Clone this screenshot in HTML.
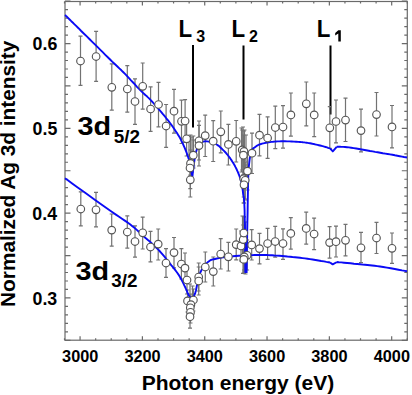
<!DOCTYPE html>
<html><head><meta charset="utf-8">
<style>
html,body{margin:0;padding:0;background:#fff;}
body{width:412px;height:395px;overflow:hidden;position:relative;}
svg{position:absolute;left:0;top:0;}
text{font-family:"Liberation Sans",sans-serif;font-weight:bold;fill:#000;}
</style></head><body>
<svg width="412" height="395" viewBox="0 0 412 395">
<g stroke="#6a6a6a" stroke-width="1.2" fill="none">
<rect x="65" y="1.5" width="342.3" height="338.7"/>
<path d="M65,340.35h5.5M407.3,340.35h-5.5M65,331.87h3M407.3,331.87h-3M65,323.39h3M407.3,323.39h-3M65,314.91h3M407.3,314.91h-3M65,306.43h3M407.3,306.43h-3M65,297.95h5.5M407.3,297.95h-5.5M65,289.47h3M407.3,289.47h-3M65,280.99h3M407.3,280.99h-3M65,272.51h3M407.3,272.51h-3M65,264.03h3M407.3,264.03h-3M65,255.55h5.5M407.3,255.55h-5.5M65,247.07h3M407.3,247.07h-3M65,238.59h3M407.3,238.59h-3M65,230.11h3M407.3,230.11h-3M65,221.63h3M407.3,221.63h-3M65,213.15h5.5M407.3,213.15h-5.5M65,204.67h3M407.3,204.67h-3M65,196.19h3M407.3,196.19h-3M65,187.71h3M407.3,187.71h-3M65,179.23h3M407.3,179.23h-3M65,170.75h5.5M407.3,170.75h-5.5M65,162.27h3M407.3,162.27h-3M65,153.79h3M407.3,153.79h-3M65,145.31h3M407.3,145.31h-3M65,136.83h3M407.3,136.83h-3M65,128.35h5.5M407.3,128.35h-5.5M65,119.87h3M407.3,119.87h-3M65,111.39h3M407.3,111.39h-3M65,102.91h3M407.3,102.91h-3M65,94.43h3M407.3,94.43h-3M65,85.95h5.5M407.3,85.95h-5.5M65,77.47h3M407.3,77.47h-3M65,68.99h3M407.3,68.99h-3M65,60.51h3M407.3,60.51h-3M65,52.03h3M407.3,52.03h-3M65,43.55h5.5M407.3,43.55h-5.5M65,35.07h3M407.3,35.07h-3M65,26.59h3M407.3,26.59h-3M65,18.11h3M407.3,18.11h-3M65,9.63h3M407.3,9.63h-3M65,1.15h5.5M407.3,1.15h-5.5M64.50,340.2v-2M64.50,1.5v2M80.08,340.2v-4M80.08,1.5v4M95.66,340.2v-2M95.66,1.5v2M111.24,340.2v-2M111.24,1.5v2M126.82,340.2v-2M126.82,1.5v2M142.40,340.2v-4M142.40,1.5v4M157.98,340.2v-2M157.98,1.5v2M173.56,340.2v-2M173.56,1.5v2M189.14,340.2v-2M189.14,1.5v2M204.72,340.2v-4M204.72,1.5v4M220.30,340.2v-2M220.30,1.5v2M235.88,340.2v-2M235.88,1.5v2M251.46,340.2v-2M251.46,1.5v2M267.04,340.2v-4M267.04,1.5v4M282.62,340.2v-2M282.62,1.5v2M298.20,340.2v-2M298.20,1.5v2M313.78,340.2v-2M313.78,1.5v2M329.36,340.2v-4M329.36,1.5v4M344.94,340.2v-2M344.94,1.5v2M360.52,340.2v-2M360.52,1.5v2M376.10,340.2v-2M376.10,1.5v2M391.68,340.2v-4M391.68,1.5v4M407.26,340.2v-2M407.26,1.5v2"/>
</g>
<g stroke="#000" stroke-width="2" fill="none">
<path d="M193,45V127.5M243.5,45.5V119.4M330.5,45.5V114.6"/>
</g>
<g stroke="#727272" stroke-width="1.2" fill="none">
<path d="M189.0,136.0V166.0M187.0,136.0h4M187.0,166.0h4"/><path d="M190.5,135.0V170.0M188.5,135.0h4M188.5,170.0h4"/><path d="M192.0,137.0V172.0M190.0,137.0h4M190.0,172.0h4"/><path d="M193.5,140.0V168.0M191.5,140.0h4M191.5,168.0h4"/><path d="M190.3,175.0V197.0M188.3,175.0h4M188.3,197.0h4"/><path d="M241.5,128.0V172.0M239.5,128.0h4M239.5,172.0h4"/><path d="M243.0,127.0V175.0M241.0,127.0h4M241.0,175.0h4"/><path d="M244.5,130.0V178.0M242.5,130.0h4M242.5,178.0h4"/><path d="M246.0,135.0V185.0M244.0,135.0h4M244.0,185.0h4"/><path d="M243.5,160.0V203.0M241.5,160.0h4M241.5,203.0h4"/><path d="M245.0,165.0V200.0M243.0,165.0h4M243.0,200.0h4"/><path d="M242.5,216.0V262.0M240.5,216.0h4M240.5,262.0h4"/><path d="M244.0,217.0V270.0M242.0,217.0h4M242.0,270.0h4"/><path d="M245.5,222.0V274.0M243.5,222.0h4M243.5,274.0h4"/><path d="M243.0,230.0V273.4M241.0,230.0h4M241.0,273.4h4"/><path d="M190.0,284.0V318.0M188.0,284.0h4M188.0,318.0h4"/><path d="M192.5,286.0V314.0M190.5,286.0h4M190.5,314.0h4"/>
<path d="M80.5,36.1V85.4M78.5,36.1h4M78.5,85.4h4"/><path d="M96.1,31.4V81.3M94.1,31.4h4M94.1,81.3h4"/><path d="M111.8,63.8V110.2M109.8,63.8h4M109.8,110.2h4"/><path d="M127.3,65.7V112.2M125.3,65.7h4M125.3,112.2h4"/><path d="M135.0,78.8V124.4M133.0,78.8h4M133.0,124.4h4"/><path d="M142.7,63.0V109.2M140.7,63.0h4M140.7,109.2h4"/><path d="M150.6,86.9V131.3M148.6,86.9h4M148.6,131.3h4"/><path d="M158.5,82.3V126.8M156.5,82.3h4M156.5,126.8h4"/><path d="M166.1,104.5V147.4M164.1,104.5h4M164.1,147.4h4"/><path d="M174.0,89.4V133.2M172.0,89.4h4M172.0,133.2h4"/><path d="M181.5,100.2V143.5M179.5,100.2h4M179.5,143.5h4"/><path d="M185.1,99.7V142.5M183.1,99.7h4M183.1,142.5h4"/><path d="M186.6,122.0V156.0M184.6,122.0h4M184.6,156.0h4"/><path d="M193.3,136.0V166.0M191.3,136.0h4M191.3,166.0h4"/><path d="M190.5,150.0V176.0M188.5,150.0h4M188.5,176.0h4"/><path d="M190.0,155.0V181.0M188.0,155.0h4M188.0,181.0h4"/><path d="M190.3,170.0V188.6M188.3,170.0h4M188.3,188.6h4"/><path d="M199.0,121.0V160.0M197.0,121.0h4M197.0,160.0h4"/><path d="M199.0,125.3V166.0M197.0,125.3h4M197.0,166.0h4"/><path d="M205.2,115.2V156.5M203.2,115.2h4M203.2,156.5h4"/><path d="M213.2,120.7V161.5M211.2,120.7h4M211.2,161.5h4"/><path d="M220.8,111.0V152.9M218.8,111.0h4M218.8,152.9h4"/><path d="M228.4,124.3V165.0M226.4,124.3h4M226.4,165.0h4"/><path d="M236.2,120.5V162.0M234.2,120.5h4M234.2,162.0h4"/><path d="M242.2,130.0V170.0M240.2,130.0h4M240.2,170.0h4"/><path d="M244.0,131.0V172.0M242.0,131.0h4M242.0,172.0h4"/><path d="M243.4,135.0V176.0M241.4,135.0h4M241.4,176.0h4"/><path d="M252.0,133.1V173.5M250.0,133.1h4M250.0,173.5h4"/><path d="M247.5,152.0V190.0M245.5,152.0h4M245.5,190.0h4"/><path d="M243.7,160.0V197.0M241.7,160.0h4M241.7,197.0h4"/><path d="M245.2,162.0V199.0M243.2,162.0h4M243.2,199.0h4"/><path d="M244.0,166.0V203.0M242.0,166.0h4M242.0,203.0h4"/><path d="M259.5,114.3V155.8M257.5,114.3h4M257.5,155.8h4"/><path d="M267.6,116.9V158.4M265.6,116.9h4M265.6,158.4h4"/><path d="M275.3,106.2V148.7M273.3,106.2h4M273.3,148.7h4"/><path d="M283.0,105.6V148.1M281.0,105.6h4M281.0,148.1h4"/><path d="M290.9,93.0V136.2M288.9,93.0h4M288.9,136.2h4"/><path d="M306.3,82.0V125.8M304.3,82.0h4M304.3,125.8h4"/><path d="M314.2,93.0V136.6M312.2,93.0h4M312.2,136.6h4"/><path d="M329.8,106.7V148.4M327.8,106.7h4M327.8,148.4h4"/><path d="M336.0,100.0V142.9M334.0,100.0h4M334.0,142.9h4"/><path d="M345.5,98.2V141.5M343.5,98.2h4M343.5,141.5h4"/><path d="M361.0,109.2V151.8M359.0,109.2h4M359.0,151.8h4"/><path d="M376.5,92.5V136.0M374.5,92.5h4M374.5,136.0h4"/><path d="M392.0,105.5V147.9M390.0,105.5h4M390.0,147.9h4"/>
<path d="M80.8,191.8V225.8M78.8,191.8h4M78.8,225.8h4"/><path d="M96.0,192.4V226.8M94.0,192.4h4M94.0,226.8h4"/><path d="M111.7,214.0V246.2M109.7,214.0h4M109.7,246.2h4"/><path d="M127.3,215.8V248.2M125.3,215.8h4M125.3,248.2h4"/><path d="M135.0,225.9V257.1M133.0,225.9h4M133.0,257.1h4"/><path d="M142.7,217.2V249.0M140.7,217.2h4M140.7,249.0h4"/><path d="M150.5,231.4V261.8M148.5,231.4h4M148.5,261.8h4"/><path d="M158.2,229.0V260.0M156.2,229.0h4M156.2,260.0h4"/><path d="M166.0,248.6V277.4M164.0,248.6h4M164.0,277.4h4"/><path d="M174.0,237.5V267.8M172.0,237.5h4M172.0,267.8h4"/><path d="M181.4,248.6V279.0M179.4,248.6h4M179.4,279.0h4"/><path d="M185.0,253.0V283.0M183.0,253.0h4M183.0,283.0h4"/><path d="M187.0,266.0V294.0M185.0,266.0h4M185.0,294.0h4"/><path d="M187.5,290.0V312.0M185.5,290.0h4M185.5,312.0h4"/><path d="M193.4,289.0V311.0M191.4,289.0h4M191.4,311.0h4"/><path d="M190.9,294.0V316.0M188.9,294.0h4M188.9,316.0h4"/><path d="M190.3,297.0V319.0M188.3,297.0h4M188.3,319.0h4"/><path d="M190.5,301.0V323.0M188.5,301.0h4M188.5,323.0h4"/><path d="M190.0,305.0V328.1M188.0,305.0h4M188.0,328.1h4"/><path d="M198.7,263.0V291.0M196.7,263.0h4M196.7,291.0h4"/><path d="M198.7,267.0V295.0M196.7,267.0h4M196.7,295.0h4"/><path d="M205.3,252.0V282.0M203.3,252.0h4M203.3,282.0h4"/><path d="M213.3,257.0V286.0M211.3,257.0h4M211.3,286.0h4"/><path d="M220.7,238.6V269.0M218.7,238.6h4M218.7,269.0h4"/><path d="M228.4,242.4V271.0M226.4,242.4h4M226.4,271.0h4"/><path d="M236.2,229.0V259.8M234.2,229.0h4M234.2,259.8h4"/><path d="M241.0,231.0V261.0M239.0,231.0h4M239.0,261.0h4"/><path d="M243.2,225.0V255.0M241.2,225.0h4M241.2,255.0h4"/><path d="M243.8,216.6V249.0M241.8,216.6h4M241.8,249.0h4"/><path d="M251.7,229.7V260.0M249.7,229.7h4M249.7,260.0h4"/><path d="M247.1,240.0V270.0M245.1,240.0h4M245.1,270.0h4"/><path d="M244.3,242.0V272.0M242.3,242.0h4M242.3,272.0h4"/><path d="M243.8,244.0V273.4M241.8,244.0h4M241.8,273.4h4"/><path d="M259.5,233.4V263.8M257.5,233.4h4M257.5,263.8h4"/><path d="M267.6,228.4V259.3M265.6,228.4h4M265.6,259.3h4"/><path d="M275.2,226.3V257.1M273.2,226.3h4M273.2,257.1h4"/><path d="M283.0,228.8V259.3M281.0,228.8h4M281.0,259.3h4"/><path d="M290.8,217.6V249.2M288.8,217.6h4M288.8,249.2h4"/><path d="M306.2,212.1V244.1M304.2,212.1h4M304.2,244.1h4"/><path d="M314.1,218.2V249.6M312.1,218.2h4M312.1,249.6h4"/><path d="M329.6,226.7V258.1M327.6,226.7h4M327.6,258.1h4"/><path d="M336.0,226.2V257.0M334.0,226.2h4M334.0,257.0h4"/><path d="M345.5,224.4V255.8M343.5,224.4h4M343.5,255.8h4"/><path d="M361.0,232.4V262.7M359.0,232.4h4M359.0,262.7h4"/><path d="M376.5,222.3V253.5M374.5,222.3h4M374.5,253.5h4"/><path d="M392.0,233.0V263.3M390.0,233.0h4M390.0,263.3h4"/>
</g>
<g stroke="#0a0af5" stroke-width="1.9" fill="none" stroke-linejoin="round">
<path d="M65.0,15.0 L65.3,15.2 L65.5,15.5 L65.7,15.7 L66.1,16.0 L66.6,16.5 L67.3,17.2 L68.3,18.2 L69.6,19.5 L71.3,21.2 L73.5,23.3 L75.9,25.7 L78.5,28.2 L81.2,31.0 L84.0,33.7 L86.8,36.4 L89.4,39.0 L92.0,41.6 L94.6,44.2 L97.4,46.9 L100.1,49.6 L102.7,52.2 L105.3,54.8 L107.8,57.2 L110.1,59.5 L112.2,61.6 L114.2,63.5 L116.1,65.3 L117.9,67.0 L119.6,68.6 L121.4,70.3 L123.1,72.0 L125.0,73.9 L126.9,75.9 L129.0,78.1 L131.0,80.3 L133.1,82.5 L135.1,84.7 L137.0,86.8 L138.8,88.7 L140.5,90.4 L142.0,91.9 L143.3,93.1 L144.5,94.2 L145.6,95.2 L146.7,96.1 L147.7,97.1 L148.8,98.1 L150.0,99.3 L151.2,100.6 L152.5,102.0 L153.7,103.4 L155.0,104.8 L156.2,106.2 L157.5,107.7 L158.7,109.2 L160.0,110.7 L161.3,112.2 L162.5,113.7 L163.8,115.2 L165.1,116.7 L166.3,118.3 L167.6,119.8 L168.8,121.4 L170.0,123.0 L171.2,124.6 L172.4,126.3 L173.6,128.0 L174.8,129.7 L175.9,131.4 L177.0,133.1 L178.0,134.7 L179.0,136.3 L179.9,137.8 L180.7,139.3 L181.4,140.8 L182.1,142.2 L182.8,143.6 L183.4,145.0 L184.0,146.3 L184.6,147.7 L185.2,149.1 L185.7,150.4 L186.2,151.7 L186.7,153.0 L187.2,154.3 L187.6,155.6 L188.0,156.8 L188.4,158.0 L188.8,159.1 L189.1,160.2 L189.4,161.2 L189.6,162.2 L189.9,163.2 L190.1,164.3 L190.4,165.4 L190.6,166.5 L190.8,167.8 L191.1,169.2 L191.3,170.8 L191.6,172.3 L191.8,173.7 L192.0,175.1 L192.2,176.2 L192.3,177.0 M192.3,177.0 L192.5,175.7 L192.7,173.8 L192.9,171.7 L193.2,169.3 L193.5,166.8 L193.8,164.3 L194.2,162.0 L194.5,160.0 L194.8,158.2 L195.2,156.4 L195.5,154.7 L195.8,153.1 L196.2,151.6 L196.6,150.1 L197.1,148.8 L197.6,147.6 L198.2,146.5 L198.7,145.5 L199.3,144.5 L199.9,143.7 L200.6,143.0 L201.4,142.4 L202.3,141.9 L203.3,141.6 L204.4,141.4 L205.8,141.3 L207.2,141.4 L208.7,141.6 L210.2,141.9 L211.7,142.3 L213.1,142.8 L214.5,143.3 L215.8,144.0 L217.0,144.7 L218.3,145.6 L219.5,146.6 L220.7,147.7 L221.8,148.7 L222.9,149.8 L224.0,150.9 L225.1,152.0 L226.1,153.1 L227.1,154.3 L228.0,155.5 L229.0,156.7 L229.9,157.9 L230.8,159.2 L231.6,160.4 L232.4,161.7 L233.2,162.9 L234.0,164.2 L234.7,165.5 L235.4,166.9 L236.1,168.2 L236.7,169.5 L237.3,170.8 L237.9,172.1 L238.4,173.4 L238.9,174.7 L239.4,176.0 L239.9,177.3 L240.3,178.6 L240.7,179.9 L241.1,181.3 L241.4,182.6 L241.7,183.9 L242.0,185.2 L242.2,186.6 L242.4,188.0 L242.6,189.4 L242.8,191.0 L243.0,192.7 L243.2,194.3 L243.4,195.5 L243.7,196.7 L243.9,198.1 L244.1,199.9 L244.3,202.3 L244.4,205.6 L244.6,210.0 L244.7,216.1 L244.9,224.0 L245.0,233.0 L245.1,242.6 L245.2,252.0 L245.3,260.6 L245.3,267.8 L245.4,273.0 M246.6,273.0 L246.7,267.5 L246.8,260.1 L246.9,251.1 L247.1,241.3 L247.2,231.2 L247.4,221.4 L247.6,212.5 L247.7,205.0 L247.8,198.8 L247.9,193.1 L248.0,188.0 L248.1,183.3 L248.2,179.0 L248.3,175.1 L248.5,171.4 L248.7,168.0 L249.0,164.8 L249.3,162.1 L249.6,159.7 L249.9,157.5 L250.3,155.7 L250.7,154.0 L251.1,152.5 L251.5,151.2 L251.9,150.1 L252.3,149.3 L252.7,148.7 L253.1,148.3 L253.5,148.1 L254.0,147.8 L254.5,147.6 L255.0,147.2 L255.5,146.8 L256.0,146.4 L256.5,146.0 L257.1,145.6 L257.7,145.3 L258.4,144.9 L259.1,144.6 L260.0,144.3 L261.0,144.0 L262.1,143.7 L263.3,143.4 L264.5,143.1 L265.8,142.8 L267.2,142.5 L268.6,142.3 L270.0,142.1 L271.5,141.9 L272.9,141.8 L274.5,141.6 L276.1,141.5 L277.7,141.4 L279.4,141.4 L281.2,141.3 L283.0,141.3 L285.0,141.3 L287.1,141.4 L289.4,141.4 L291.7,141.5 L294.0,141.6 L296.1,141.7 L298.2,141.9 L300.0,142.0 L301.6,142.1 L303.0,142.3 L304.3,142.4 L305.4,142.6 L306.6,142.7 L307.7,142.9 L308.8,143.1 L310.0,143.3 L311.2,143.5 L312.5,143.8 L313.8,144.0 L315.0,144.3 L316.2,144.6 L317.5,144.9 L318.8,145.2 L320.0,145.5 L321.3,145.8 L322.7,146.2 L324.2,146.6 L325.6,147.0 L327.0,147.4 L328.2,147.8 L329.2,148.1 L330.0,148.3 M330.0,148.3 L332.8,151.4 L336.7,146.8 M336.7,146.8 L337.6,146.8 L338.7,146.8 L340.0,146.8 L341.5,146.9 L343.2,146.9 L345.0,147.0 L347.0,147.2 L349.0,147.4 L351.2,147.7 L353.7,148.1 L356.3,148.5 L359.0,149.0 L361.8,149.5 L364.6,150.0 L367.4,150.5 L370.0,151.0 L372.6,151.4 L375.1,151.9 L377.7,152.3 L380.2,152.7 L382.8,153.2 L385.2,153.6 L387.7,154.0 L390.0,154.4 L392.4,154.8 L394.9,155.3 L397.3,155.7 L399.8,156.2 L402.0,156.6 L404.0,157.0 L405.7,157.3 L407.0,157.5"/>
<path d="M65.0,178.2 L68.2,180.5 L72.5,183.7 L77.7,187.4 L83.4,191.6 L89.3,195.8 L95.1,200.0 L100.4,203.8 L105.0,207.1 L108.9,209.8 L112.5,212.3 L115.9,214.6 L119.1,216.7 L122.0,218.7 L124.8,220.6 L127.5,222.4 L130.0,224.3 L132.4,226.2 L134.7,228.1 L136.8,229.9 L138.8,231.7 L140.5,233.4 L142.2,234.9 L143.7,236.3 L145.0,237.5 L146.1,238.4 L146.8,239.1 L147.4,239.5 L147.8,239.9 L148.2,240.2 L148.6,240.6 L149.2,241.1 L150.0,241.8 L151.0,242.7 L152.2,243.8 L153.4,245.0 L154.8,246.2 L156.1,247.5 L157.5,248.9 L158.8,250.2 L160.0,251.5 L161.2,252.8 L162.3,254.1 L163.4,255.4 L164.5,256.7 L165.6,258.1 L166.7,259.5 L167.9,260.9 L169.0,262.3 L170.2,263.8 L171.4,265.3 L172.7,266.8 L173.9,268.4 L175.1,269.9 L176.3,271.5 L177.4,273.0 L178.5,274.6 L179.5,276.2 L180.4,277.8 L181.3,279.4 L182.2,281.0 L183.0,282.6 L183.7,284.2 L184.4,285.6 L185.1,287.0 L185.7,288.3 L186.3,289.5 L186.7,290.7 L187.2,291.8 L187.6,292.9 L188.0,293.8 L188.5,294.7 L188.9,295.5 L189.4,296.2 L189.9,296.8 L190.4,297.3 L190.9,297.8 L191.4,298.2 L191.9,298.5 L192.2,298.8 L192.5,299.0 M192.5,299.0 L192.7,298.5 L193.0,298.0 L193.4,297.3 L193.7,296.6 L194.2,295.7 L194.6,294.7 L195.1,293.4 L195.5,292.0 L196.0,290.3 L196.4,288.2 L196.9,285.8 L197.4,283.4 L197.9,280.9 L198.5,278.5 L199.0,276.4 L199.6,274.5 L200.2,272.9 L200.8,271.5 L201.4,270.3 L202.1,269.2 L202.7,268.1 L203.4,267.2 L204.0,266.3 L204.7,265.4 L205.4,264.6 L206.0,263.8 L206.7,263.1 L207.4,262.5 L208.0,261.9 L208.7,261.4 L209.4,260.9 L210.0,260.5 L210.6,260.2 L211.2,259.9 L211.7,259.7 L212.2,259.6 L212.8,259.4 L213.4,259.3 L214.1,259.2 L215.0,259.0 L215.9,258.8 L216.9,258.5 L217.9,258.3 L218.9,258.0 L220.2,257.8 L221.5,257.5 L223.1,257.2 L225.0,257.0 L227.2,256.8 L229.9,256.5 L232.8,256.3 L235.8,256.0 L238.9,255.8 L241.9,255.6 L244.6,255.4 L247.0,255.3 L249.1,255.2 L251.0,255.1 L252.7,255.1 L254.2,255.0 L255.7,255.0 L257.2,255.0 L258.6,255.0 L260.0,255.0 L261.3,255.0 L262.5,255.0 L263.5,255.0 L264.6,255.0 L265.6,255.0 L266.9,255.0 L268.3,255.1 L270.0,255.2 L272.0,255.3 L274.3,255.5 L276.8,255.6 L279.4,255.8 L282.1,256.0 L284.8,256.2 L287.4,256.5 L290.0,256.7 L292.5,257.0 L295.0,257.2 L297.5,257.5 L300.0,257.8 L302.5,258.1 L305.0,258.4 L307.5,258.7 L310.0,259.1 L312.6,259.5 L315.5,260.0 L318.4,260.5 L321.2,261.0 L324.0,261.4 L326.4,261.9 L328.5,262.2 L330.0,262.5 M330.0,262.5 L332.7,264.4 L337.0,262.0 M337.0,262.0 L338.8,262.2 L341.2,262.4 L344.1,262.7 L347.2,263.0 L350.6,263.3 L353.9,263.7 L357.1,264.0 L360.0,264.3 L362.6,264.6 L365.0,264.8 L367.4,265.0 L369.8,265.2 L372.1,265.5 L374.6,265.8 L377.2,266.1 L380.0,266.5 L383.2,267.0 L386.9,267.6 L390.8,268.3 L394.8,269.0 L398.5,269.7 L402.0,270.4 L404.9,270.9 L407.0,271.3"/>
</g>
<g stroke="#555" stroke-width="1.15" fill="#fff">
<circle cx="80.5" cy="61.0" r="3.8"/><circle cx="96.1" cy="56.5" r="3.8"/><circle cx="111.8" cy="87.3" r="3.8"/><circle cx="127.3" cy="89.0" r="3.8"/><circle cx="135.0" cy="101.5" r="3.8"/><circle cx="142.7" cy="86.3" r="3.8"/><circle cx="150.6" cy="109.0" r="3.8"/><circle cx="158.5" cy="104.5" r="3.8"/><circle cx="166.1" cy="126.0" r="3.8"/><circle cx="174.0" cy="111.2" r="3.8"/><circle cx="181.5" cy="121.3" r="3.8"/><circle cx="185.1" cy="121.0" r="3.8"/><circle cx="186.6" cy="138.8" r="3.8"/><circle cx="193.3" cy="155.2" r="3.8"/><circle cx="190.5" cy="163.4" r="3.8"/><circle cx="190.0" cy="168.0" r="3.8"/><circle cx="190.3" cy="179.8" r="3.8"/><circle cx="199.0" cy="140.8" r="3.8"/><circle cx="199.0" cy="145.6" r="3.8"/><circle cx="205.2" cy="135.6" r="3.8"/><circle cx="213.2" cy="141.2" r="3.8"/><circle cx="220.8" cy="131.8" r="3.8"/><circle cx="228.4" cy="144.4" r="3.8"/><circle cx="236.2" cy="141.3" r="3.8"/><circle cx="242.2" cy="149.9" r="3.8"/><circle cx="244.0" cy="151.4" r="3.8"/><circle cx="243.4" cy="155.2" r="3.8"/><circle cx="252.0" cy="153.2" r="3.8"/><circle cx="247.5" cy="171.1" r="3.8"/><circle cx="243.7" cy="178.7" r="3.8"/><circle cx="245.2" cy="180.3" r="3.8"/><circle cx="244.0" cy="184.8" r="3.8"/><circle cx="259.5" cy="135.2" r="3.8"/><circle cx="267.6" cy="138.0" r="3.8"/><circle cx="275.3" cy="127.5" r="3.8"/><circle cx="283.0" cy="127.0" r="3.8"/><circle cx="290.9" cy="114.9" r="3.8"/><circle cx="306.3" cy="103.8" r="3.8"/><circle cx="314.2" cy="114.9" r="3.8"/><circle cx="329.8" cy="127.8" r="3.8"/><circle cx="336.0" cy="121.5" r="3.8"/><circle cx="345.5" cy="120.1" r="3.8"/><circle cx="361.0" cy="130.6" r="3.8"/><circle cx="376.5" cy="114.6" r="3.8"/><circle cx="392.0" cy="126.9" r="3.8"/>
<circle cx="80.8" cy="209.0" r="3.8"/><circle cx="96.0" cy="209.8" r="3.8"/><circle cx="111.7" cy="230.1" r="3.8"/><circle cx="127.3" cy="232.0" r="3.8"/><circle cx="135.0" cy="241.5" r="3.8"/><circle cx="142.7" cy="232.8" r="3.8"/><circle cx="150.5" cy="247.0" r="3.8"/><circle cx="158.2" cy="244.1" r="3.8"/><circle cx="166.0" cy="263.0" r="3.8"/><circle cx="174.0" cy="252.6" r="3.8"/><circle cx="181.4" cy="264.0" r="3.8"/><circle cx="185.0" cy="268.1" r="3.8"/><circle cx="187.0" cy="280.0" r="3.8"/><circle cx="187.5" cy="300.9" r="3.8"/><circle cx="193.4" cy="300.0" r="3.8"/><circle cx="190.9" cy="304.7" r="3.8"/><circle cx="190.3" cy="307.8" r="3.8"/><circle cx="190.5" cy="312.3" r="3.8"/><circle cx="190.0" cy="316.7" r="3.8"/><circle cx="198.7" cy="277.0" r="3.8"/><circle cx="198.7" cy="281.0" r="3.8"/><circle cx="205.3" cy="267.0" r="3.8"/><circle cx="213.3" cy="271.6" r="3.8"/><circle cx="220.7" cy="254.0" r="3.8"/><circle cx="228.4" cy="256.8" r="3.8"/><circle cx="236.2" cy="244.6" r="3.8"/><circle cx="241.0" cy="245.9" r="3.8"/><circle cx="243.2" cy="239.6" r="3.8"/><circle cx="243.8" cy="233.0" r="3.8"/><circle cx="251.7" cy="244.9" r="3.8"/><circle cx="247.1" cy="255.3" r="3.8"/><circle cx="244.3" cy="256.9" r="3.8"/><circle cx="243.8" cy="259.4" r="3.8"/><circle cx="259.5" cy="248.6" r="3.8"/><circle cx="267.6" cy="243.5" r="3.8"/><circle cx="275.2" cy="241.5" r="3.8"/><circle cx="283.0" cy="243.5" r="3.8"/><circle cx="290.8" cy="233.4" r="3.8"/><circle cx="306.2" cy="228.4" r="3.8"/><circle cx="314.1" cy="234.0" r="3.8"/><circle cx="329.6" cy="242.6" r="3.8"/><circle cx="336.0" cy="241.7" r="3.8"/><circle cx="345.5" cy="240.3" r="3.8"/><circle cx="361.0" cy="247.8" r="3.8"/><circle cx="376.5" cy="238.0" r="3.8"/><circle cx="392.0" cy="248.3" r="3.8"/>
</g>
<g font-size="17.8">
<text x="32.6" y="50.3">0.6</text>
<text x="32.6" y="135.4">0.5</text>
<text x="32.3" y="220">0.4</text>
<text x="32.5" y="304.6">0.3</text>
</g>
<g font-size="16.3">
<text x="62.1" y="361.6">3000</text>
<text x="124.4" y="361.6">3200</text>
<text x="186.7" y="361.6">3400</text>
<text x="249" y="361.6">3600</text>
<text x="311.3" y="361.6">3800</text>
<text x="373.75" y="361.6">4000</text>
</g>
<text x="141.7" y="390" font-size="21">Photon energy (eV)</text>
<text transform="translate(15,306.9) rotate(-90)" font-size="20.8">Normalized Ag 3d intensity</text>
<g font-size="24">
<text transform="translate(178.45,37.1) scale(0.93,1)">L</text>
<text transform="translate(231.55,37.1) scale(0.93,1)">L</text>
<text transform="translate(316.7,37.1) scale(0.93,1)">L</text>
</g>
<g font-size="16">
<text x="196.2" y="41.5">3</text>
<text x="249.1" y="41.8">2</text>
</g>
<path d="M340.8,30.2H338.3L335.2,33V35.4L338.3,33.5V41.5H340.8Z" fill="#000"/>
<text transform="translate(77.6,134.6) scale(1.13,1)" font-size="25.5">3d</text>
<text transform="translate(113.65,142.6) scale(1.05,1)" font-size="18">5/2</text>
<text transform="translate(75.6,279.7) scale(1.13,1)" font-size="25.5">3d</text>
<text transform="translate(111.35,287.4) scale(1.05,1)" font-size="18">3/2</text>
</svg>
</body></html>
